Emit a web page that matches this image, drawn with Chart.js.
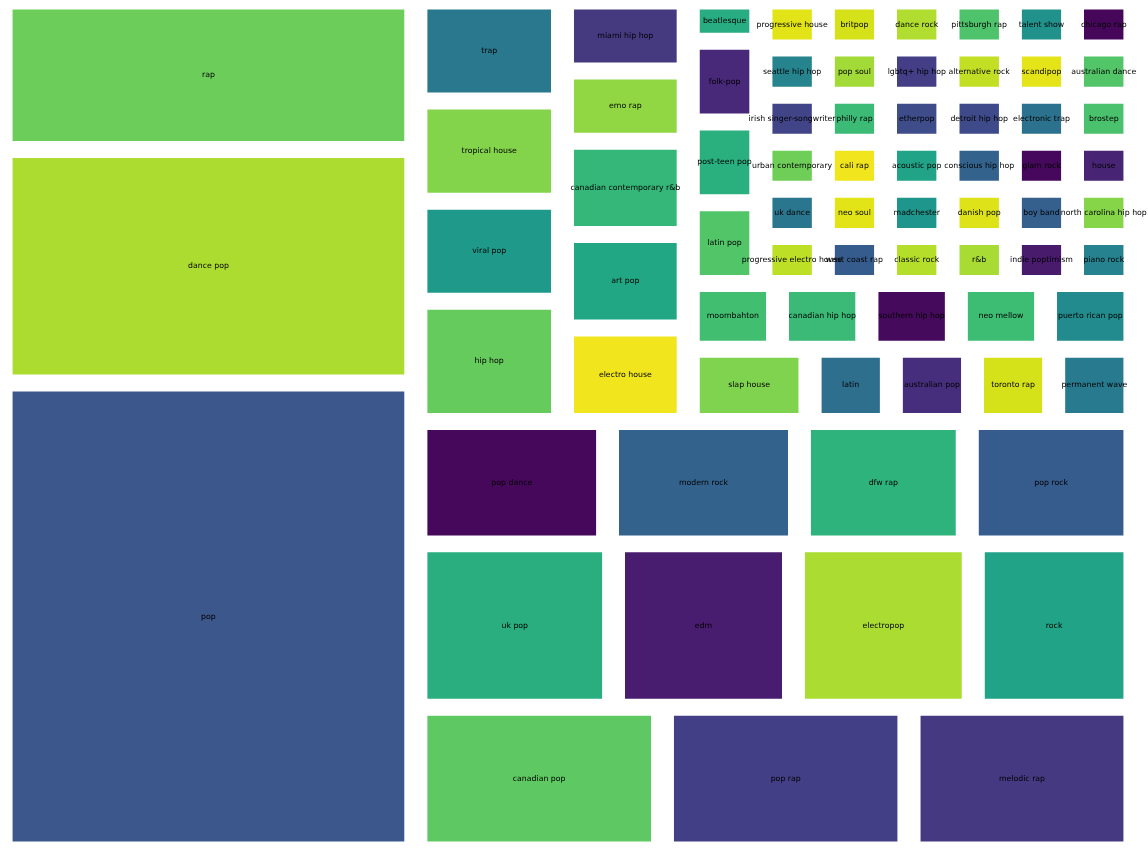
<!DOCTYPE html>
<html>
<head>
<meta charset="utf-8">
<script src="https://cdn.jsdelivr.net/npm/chart.js@4.4.0/dist/chart.umd.min.js"></script>
<style>
html,body{margin:0;padding:0;background:#ffffff;}
#wrap{width:1148px;height:852px;position:relative;}
</style>
</head>
<body>
<div id="wrap"><canvas id="c" width="1148" height="852"></canvas></div>
<script>
// Genre names (sorted by count, descending, in the order the treemap lays them out)
const genres = [
  "pop","dance pop","rap","canadian pop","pop rap","melodic rap","uk pop","edm","electropop","rock",
  "pop dance","modern rock","dfw rap","pop rock","hip hop","viral pop","tropical house","trap",
  "electro house","art pop","canadian contemporary r&b","emo rap","miami hip hop","slap house",
  "latin","australian pop","toronto rap","permanent wave","moombahton","canadian hip hop",
  "southern hip hop","neo mellow","puerto rican pop","latin pop","post-teen pop","folk-pop","beatlesque",
  "progressive electro house","west coast rap","classic rock","r&b","indie poptimism","piano rock",
  "uk dance","urban contemporary","irish singer-songwriter","seattle hip hop","progressive house",
  "neo soul","madchester","danish pop","boy band","north carolina hip hop",
  "cali rap","philly rap","pop soul","britpop",
  "acoustic pop","conscious hip hop","glam rock","house",
  "etherpop","lgbtq+ hip hop","dance rock",
  "detroit hip hop","electronic trap","brostep",
  "alternative rock","pittsburgh rap",
  "scandipop","australian dance",
  "talent show","chicago rap"
];
// Number of songs per genre
const counts = [
  66,33,21,12,12,11,11,10,10,9,
  8,8,7,7,6,5,5,5,
  4,4,4,3,3,3,
  2,2,2,2,2,2,
  2,2,2,2,2,2,1,
  1,1,1,1,1,1,
  1,1,1,1,1,
  1,1,1,1,1,
  1,1,1,1,
  1,1,1,1,
  1,1,1,
  1,1,1,
  1,1,
  1,1,
  1,1
];
// Cell colours (viridis samples)
const colors = [
  "#3b578b","#addc30","#6ccd5a","#5ec962","#433f86","#453a82","#2aae7f","#481c6e","#aadc32","#20a386",
  "#46085b","#33638d","#2eb37c","#365c8d","#66cb5d","#1f9a8a","#84d44b","#29788e",
  "#f1e51d","#22a785","#35b779","#90d743","#453a80","#80d34e",
  "#2e6f8e","#472e7c","#d5e21a","#287a8e","#42be71","#3aba76",
  "#450a5c","#3dbc74","#228b8d","#52c569","#2ab07f","#482878","#27ad81",
  "#bddf26","#365c8d","#b5de2b","#a8db34","#481b6d","#26828e",
  "#2a768e","#6ece58","#414487","#25848e","#e2e418",
  "#e2e418","#1f968b","#dde318","#355f8d","#86d549",
  "#f1e51d","#3bbb75","#a2da37","#d5e21a",
  "#20a386","#33638d","#46085c","#482475",
  "#3e4c8a","#433e85","#b0dd2f",
  "#3e4a89","#2c728e","#4ac16d",
  "#c2df23","#4ec36b",
  "#e5e419","#52c569",
  "#21918c","#46075a"
];
const NORM_X = 100, NORM_Y = 100;

// ---- squarify layout (same algorithm as the python squarify package) ----
function normalizeSizes(sizes, dx, dy) {
  const total = sizes.reduce((a, b) => a + b, 0);
  return sizes.map(s => s * dx * dy / total);
}
function layoutrow(sizes, x, y, dx, dy) {
  const width = sizes.reduce((a, b) => a + b, 0) / dy;
  const out = [];
  for (const s of sizes) { out.push({x: x, y: y, dx: width, dy: s / width}); y += s / width; }
  return out;
}
function layoutcol(sizes, x, y, dx, dy) {
  const height = sizes.reduce((a, b) => a + b, 0) / dx;
  const out = [];
  for (const s of sizes) { out.push({x: x, y: y, dx: s / height, dy: height}); x += s / height; }
  return out;
}
function layout(sizes, x, y, dx, dy) { return dx >= dy ? layoutrow(sizes, x, y, dx, dy) : layoutcol(sizes, x, y, dx, dy); }
function leftover(sizes, x, y, dx, dy) {
  const area = sizes.reduce((a, b) => a + b, 0);
  if (dx >= dy) { const w = area / dy; return [x + w, y, dx - w, dy]; }
  const h = area / dx; return [x, y + h, dx, dy - h];
}
function worstRatio(sizes, x, y, dx, dy) {
  return Math.max(...layout(sizes, x, y, dx, dy).map(r => Math.max(r.dx / r.dy, r.dy / r.dx)));
}
function squarify(sizes, x, y, dx, dy) {
  if (sizes.length === 0) return [];
  if (sizes.length === 1) return layout(sizes, x, y, dx, dy);
  let i = 1;
  while (i < sizes.length && worstRatio(sizes.slice(0, i), x, y, dx, dy) >= worstRatio(sizes.slice(0, i + 1), x, y, dx, dy)) i++;
  const current = sizes.slice(0, i), remaining = sizes.slice(i);
  const [lx, ly, ldx, ldy] = leftover(current, x, y, dx, dy);
  return layout(current, x, y, dx, dy).concat(squarify(remaining, lx, ly, ldx, ldy));
}
function paddedSquarify(sizes, x, y, dx, dy) {
  return squarify(sizes, x, y, dx, dy).map(r => {
    const p = {x: r.x, y: r.y, dx: r.dx, dy: r.dy};
    if (p.dx > 2) { p.x += 1; p.dx -= 2; }
    if (p.dy > 2) { p.y += 1; p.dy -= 2; }
    return p;
  });
}

const rects = paddedSquarify(normalizeSizes(counts, NORM_X, NORM_Y), 0, 0, NORM_X, NORM_Y);

const datasets = rects.map((r, i) => ({
  label: genres[i],
  data: [{x: r.x, y: r.y + r.dy}, {x: r.x + r.dx, y: r.y + r.dy}],
  fill: {value: r.y},
  backgroundColor: colors[i],
  borderColor: 'rgba(0,0,0,0)',
  borderWidth: 0,
  pointRadius: 0,
  pointHoverRadius: 0,
  tension: 0
}));

const labelPlugin = {
  id: 'cellLabels',
  afterDatasetsDraw(chart) {
    const ctx = chart.ctx, xs = chart.scales.x, ys = chart.scales.y;
    ctx.save();
    ctx.font = "7.8px 'DejaVu Sans'";
    ctx.fillStyle = '#000000';
    ctx.textAlign = 'center';
    ctx.textBaseline = 'middle';
    rects.forEach((r, i) => {
      ctx.fillText(genres[i], xs.getPixelForValue(r.x + r.dx / 2), ys.getPixelForValue(r.y + r.dy / 2));
    });
    ctx.restore();
  }
};

new Chart(document.getElementById('c'), {
  type: 'line',
  data: {datasets: datasets},
  options: {
    responsive: false,
    animation: false,
    layout: {padding: {left: 1, top: 1, right: 13, bottom: 2}},
    scales: {
      x: {type: 'linear', min: 0, max: NORM_X, display: false},
      y: {type: 'linear', min: 0, max: NORM_Y, display: false}
    },
    plugins: {legend: {display: false}, tooltip: {enabled: false}},
    events: []
  },
  plugins: [labelPlugin]
});
</script>
</body>
</html>
